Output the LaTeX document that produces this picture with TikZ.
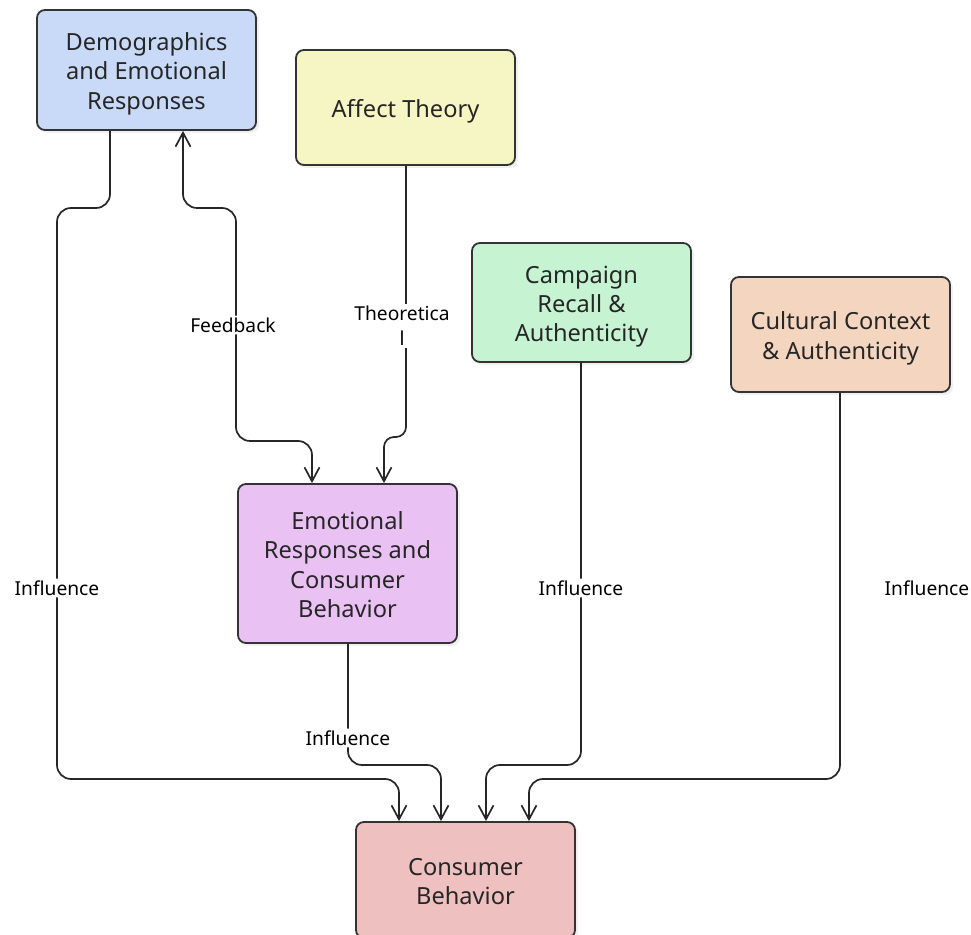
\documentclass[tikz,border=0pt]{standalone}
\usepackage{fontspec}
\setmainfont{Noto Sans}
\usetikzlibrary{arrows.meta,shadows}

\definecolor{demoblue}{HTML}{C9DAF8}
\definecolor{affectyellow}{HTML}{F6F5C4}
\definecolor{campgreen}{HTML}{C6F4D3}
\definecolor{cultpeach}{HTML}{F4D6C0}
\definecolor{emopurple}{HTML}{EAC1F3}
\definecolor{conspink}{HTML}{EFC0C0}
\definecolor{edgegray}{HTML}{333333}

\newcommand\boxstrut{\rule{0pt}{12.8pt}}

\begin{document}
\begin{tikzpicture}[x=0.5pt,y=-0.5pt,
    box/.style={draw=edgegray, line width=0.9pt, rounded corners=4pt,
        minimum width=109.5pt, align=center, text=black!85,
        font=\fontsize{11.8}{14.6}\selectfont,
        execute at end node={\rule[-2.8pt]{0pt}{2.8pt}},
        drop shadow={opacity=0.12, shadow xshift=1.5pt, shadow yshift=-1.5pt}},
    flow/.style={draw=black!85, line width=0.85pt, rounded corners=7pt,
        -{Straight Barb[length=7pt,width=7.5pt]}},
    lbl/.style={fill=white, inner sep=1pt, text=black,
        font=\fontsize{9.6}{12.5}\selectfont, align=center}]

    \clip (0,0) rectangle (971,935);

    % boxes
    \node[box, fill=demoblue, minimum height=60pt]     (demo)   at (146.5,70)  {\boxstrut Demographics\\and Emotional\\Responses};
    \node[box, fill=affectyellow, minimum height=57.5pt] (affect) at (405.5,107.5) {\boxstrut Affect Theory};
    \node[box, fill=campgreen, minimum height=59.5pt]  (camp)   at (581.5,302.5) {\boxstrut Campaign\\Recall \&\\Authenticity};
    \node[box, fill=cultpeach, minimum height=57.5pt]  (cult)   at (840.5,334.5) {\boxstrut Cultural Context\\\& Authenticity};
    \node[box, fill=emopurple, minimum height=79.5pt]  (emo)    at (347.5,563.5) {\boxstrut Emotional\\Responses and\\Consumer\\Behavior};
    \node[box, fill=conspink, minimum height=58pt]     (cons)   at (465.5,880) {\boxstrut Consumer\\Behavior};

    % connectors
    \draw[flow] (demo.south -| 110,0) -- (110,208) -- (57,208)
        -- (57,588) node[lbl] {Influence}
        -- (57,779) -- (399,779) -- (cons.north -| 399,0);
    \draw[flow, {Straight Barb[length=7pt,width=7.5pt]}-{Straight Barb[length=7pt,width=7.5pt]}]
        (demo.south -| 183,0) -- (183,208) -- (236,208)
        -- (236,325) node[lbl, xshift=-1.5pt] {Feedback}
        -- (236,441) -- (312,441) -- (emo.north -| 312,0);
    \draw[flow, rounded corners=5pt] (affect.south -| 406,0)
        -- (406,326) node[lbl, xshift=-2pt] {Theoretica\\l}
        -- (406,437) -- (384,437) -- (emo.north -| 384,0);
    \draw[flow] (emo.south -| 348,0)
        -- (348,738) node[lbl] {Influence}
        -- (348,765) -- (441,765) -- (cons.north -| 441,0);
    \draw[flow] (camp.south -| 581,0)
        -- (581,588) node[lbl] {Influence}
        -- (581,765) -- (486,765) -- (cons.north -| 486,0);
    \draw[flow] (cult.south -| 840,0)
        -- (840,588) node[lbl, xshift=43.5pt] {Influence}
        -- (840,779) -- (529,779) -- (cons.north -| 529,0);
\end{tikzpicture}
\end{document}
